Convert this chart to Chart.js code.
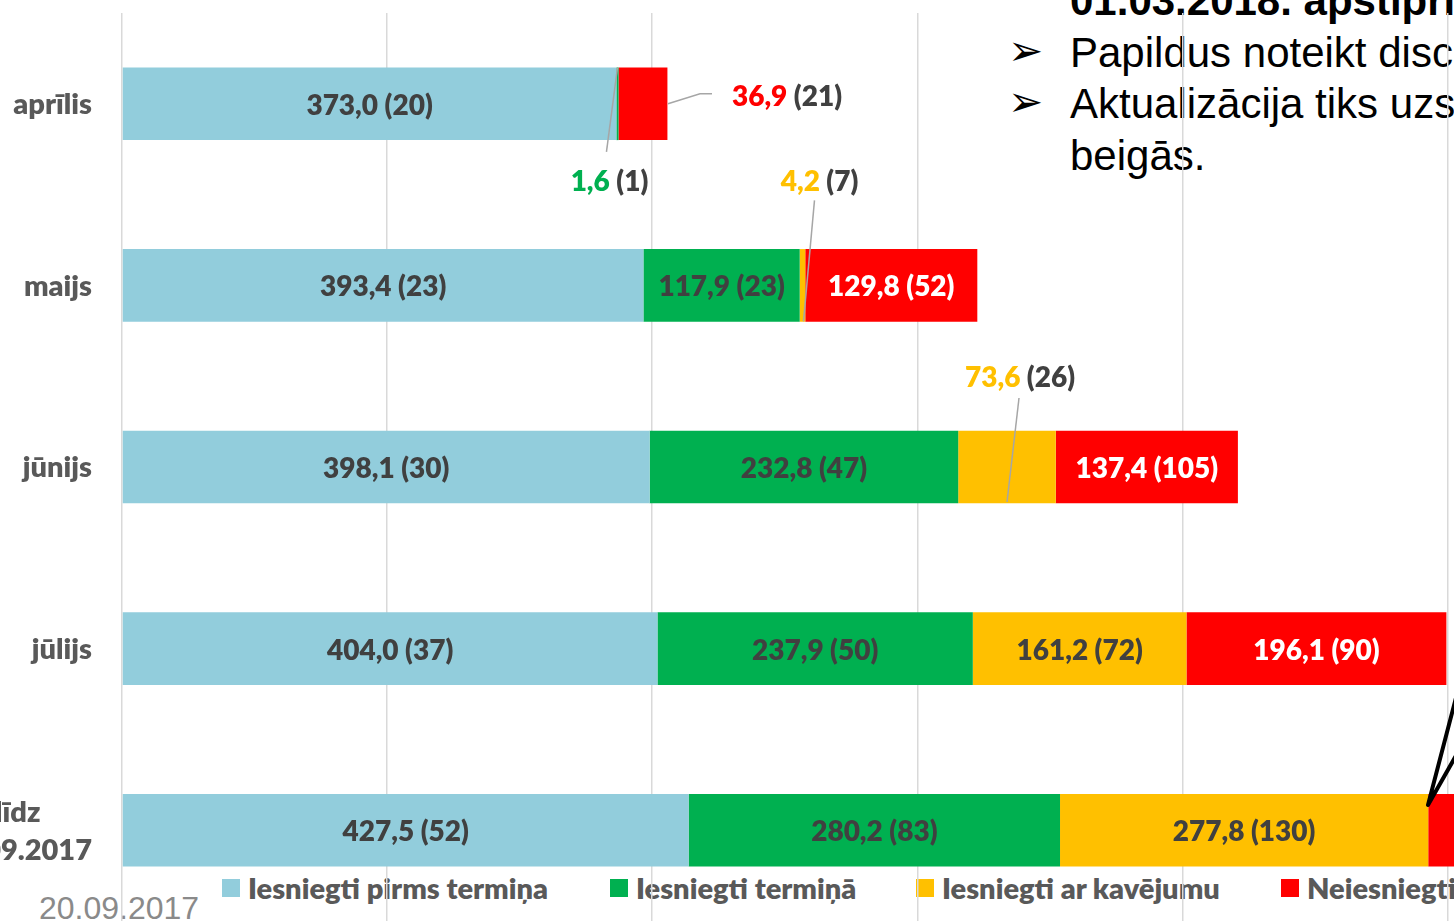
<!DOCTYPE html>
<html lang="lv">
<head>
<meta charset="utf-8">
<title>Iesniegtie dokumenti</title>
<script src="https://cdn.jsdelivr.net/npm/chart.js@4.4.1/dist/chart.umd.min.js"></script>
<style>
    html, body {
        margin: 0;
        padding: 0;
        background: #fff;
    }
    body {
        position: relative;
        width: 1454px;
        height: 923px;
        overflow: hidden;
    }
    /* slide text box behind the chart (gridlines run over it) */
    .note {
        position: absolute;
        left: 1070px;
        top: -25px;
        font-family: 'Liberation Sans', Arial, sans-serif;
        font-size: 42px;
        line-height: 51.5px;
        color: #000;
        white-space: nowrap;
    }
    .note div { position: relative; }
    .note b { font-weight: 700; }
    .note .arrow {
        position: absolute;
        left: -62px;
        top: -2px;
        font-family: 'DejaVu Sans', sans-serif;
        font-size: 42px;
    }
    .date {
        position: absolute;
        left: 39px;
        top: 890px;
        font-family: 'Liberation Sans', Arial, sans-serif;
        font-size: 32px;
        color: #8a8a8a;
        white-space: nowrap;
    }
    .legend span.item {
        position: absolute;
        top: 870px;
        display: flex;
        align-items: center;
        white-space: nowrap;
        font-family: Lato, 'Open Sans', sans-serif;
        font-weight: 800;
        font-size: 29px;
        color: #595959;
    }
    .legend i {
        display: inline-block;
        width: 18px;
        height: 18px;
        margin-right: 8px;
    }
    #chart {
        position: absolute;
        left: 0;
        top: 0;
    }
    .callout {
        position: absolute;
        left: 0;
        top: 0;
    }
</style>
</head>
<body>

<div class="note">
    <div><b>01.03.2018. apstiprināts</b></div>
    <div><span class="arrow">➢</span>Papildus noteikt disciplīnas</div>
    <div><span class="arrow">➢</span>Aktualizācija tiks uzsākta</div>
    <div>beigās.</div>
</div>
<div class="date">20.09.2017</div>
<div class="legend" id="legend"></div>

<canvas id="chart" width="1600" height="923"></canvas>

<svg class="callout" width="1454" height="923">
    <polyline points="1458,690 1428,805 1458,752" fill="none" stroke="#000" stroke-width="4" stroke-linejoin="round"/>
</svg>

<script>
/* ── Data (values in thousands, count of documents in brackets) ── */
const categories = ['aprīlis', 'maijs', 'jūnijs', 'jūlijs', ['līdz', '20.09.2017']];

const seriesNames = ['Iesniegti pirms termiņa', 'Iesniegti termiņā', 'Iesniegti ar kavējumu', 'Neiesniegti'];

const beforeTerm       = [373.0, 393.4, 398.1, 404.0, 427.5];
const beforeTermCount  = [20, 23, 30, 37, 52];

const onTerm           = [1.6, 117.9, 232.8, 237.9, 280.2];
const onTermCount      = [1, 23, 47, 50, 83];

const lateTerm         = [null, 4.2, 73.6, 161.2, 277.8];
const lateTermCount    = [null, 7, 26, 72, 130];

const notSubmitted      = [36.9, 129.8, 137.4, 196.1, 180.0];
const notSubmittedCount = [21, 52, 105, 90, 140];

const xTicksStep = 200;

/* ── Styles ─────────────────────────────────────────── */
const colors     = ['#92CDDC', '#00B050', '#FFC000', '#FF0000'];
const labelInk   = ['#404040', '#404040', '#404040', '#FFFFFF'];
const darkText   = '#404040';
const axisText   = '#595959';
const labelFont  = "800 28px Lato, 'Open Sans', sans-serif";
const catFont    = "800 29px Lato, 'Open Sans', sans-serif";
const legendX    = [222, 610, 916, 1281];

// labels placed outside their thin segment; every point is relative to the segment centre
const outsideLabels = {
    '1-0': { dx: -8,  dy: 76,   line: [[-11, 48], [0, -36]] },
    '3-0': { dx: 144, dy: -9,   line: [[25, 0], [57, -10], [69, -10]] },
    '2-1': { dx: 17,  dy: -105, line: [[12, -85], [1, 36]] },
    '2-2': { dx: 13,  dy: -91,  line: [[12, -69], [0, 35]] }
};

const fmt = v => v.toFixed(1).replace('.', ',');

const counts = [beforeTermCount, onTermCount, lateTermCount, notSubmittedCount];

/* ── Plugins ────────────────────────────────────────── */
const categoryLabels = {
    id: 'categoryLabels',
    afterDraw(chart) {
        const { ctx } = chart;
        const yScale = chart.scales.y;
        const right = chart.chartArea.left - 30;
        ctx.save();
        ctx.font = catFont;
        ctx.fillStyle = axisText;
        ctx.textBaseline = 'middle';
        categories.forEach((cat, i) => {
            const y = yScale.getPixelForValue(i) + 1;
            if (Array.isArray(cat)) {
                const w = Math.max(...cat.map(t => ctx.measureText(t).width));
                const lh = 38;
                ctx.textAlign = 'center';
                cat.forEach((t, k) => {
                    ctx.fillText(t, right - w / 2, y + (k - (cat.length - 1) / 2) * lh);
                });
            } else {
                ctx.textAlign = 'right';
                ctx.fillText(cat, right, y);
            }
        });
        ctx.restore();
    }
};

const barLabels = {
    id: 'barLabels',
    afterDatasetsDraw(chart) {
        const { ctx } = chart;
        ctx.save();
        ctx.font = labelFont;
        ctx.textBaseline = 'middle';
        chart.data.datasets.forEach((ds, di) => {
            const meta = chart.getDatasetMeta(di);
            meta.data.forEach((bar, i) => {
                const v = ds.data[i];
                if (v == null) return;
                const cx = (bar.x + bar.base) / 2;
                const cy = bar.y + 2;
                const valTxt = fmt(v);
                const cntTxt = '(' + counts[di][i] + ')';
                const out = outsideLabels[di + '-' + i];
                if (out) {
                    // leader line
                    ctx.strokeStyle = '#A6A6A6';
                    ctx.lineWidth = 1.5;
                    ctx.beginPath();
                    out.line.forEach((p, k) => {
                        k === 0 ? ctx.moveTo(cx + p[0], bar.y + p[1]) : ctx.lineTo(cx + p[0], bar.y + p[1]);
                    });
                    ctx.stroke();
                    // value in series colour, count in dark grey
                    const w1 = ctx.measureText(valTxt + ' ').width;
                    const w2 = ctx.measureText(cntTxt).width;
                    const x0 = cx + out.dx - (w1 + w2) / 2;
                    ctx.textAlign = 'left';
                    ctx.fillStyle = colors[di];
                    ctx.fillText(valTxt, x0, cy + out.dy);
                    ctx.fillStyle = darkText;
                    ctx.fillText(cntTxt, x0 + w1, cy + out.dy);
                } else {
                    ctx.textAlign = 'center';
                    ctx.fillStyle = labelInk[di];
                    ctx.fillText(valTxt + ' ' + cntTxt, cx, cy);
                }
            });
        });
        ctx.restore();
    }
};

/* ── Chart ──────────────────────────────────────────── */
const values = [beforeTerm, onTerm, lateTerm, notSubmitted];

new Chart(document.getElementById('chart'), {
    type: 'bar',
    data: {
        labels: categories,
        datasets: seriesNames.map((name, k) => ({
            label: name,
            data: values[k],
            backgroundColor: colors[k],
            borderWidth: 0,
            categoryPercentage: 0.4,
            barPercentage: 1
        }))
    },
    options: {
        indexAxis: 'y',
        responsive: false,
        animation: false,
        layout: { padding: { left: 122, right: 20, top: 13, bottom: 2 } },
        plugins: {
            legend: { display: false },
            tooltip: { enabled: false }
        },
        scales: {
            x: {
                stacked: true,
                min: 0,
                max: 1100,
                ticks: { display: false, stepSize: xTicksStep },
                grid: { color: '#D9D9D9', lineWidth: 1.5, drawTicks: false },
                border: { display: false }
            },
            y: {
                stacked: true,
                display: false
            }
        }
    },
    plugins: [barLabels, categoryLabels]
});

/* ── HTML legend built from the series ─────────────── */
const legendEl = document.getElementById('legend');
seriesNames.forEach((name, k) => {
    const item = document.createElement('span');
    item.className = 'item';
    item.style.left = legendX[k] + 'px';
    const box = document.createElement('i');
    box.style.background = colors[k];
    item.appendChild(box);
    item.appendChild(document.createTextNode(name));
    legendEl.appendChild(item);
});
</script>
</body>
</html>
